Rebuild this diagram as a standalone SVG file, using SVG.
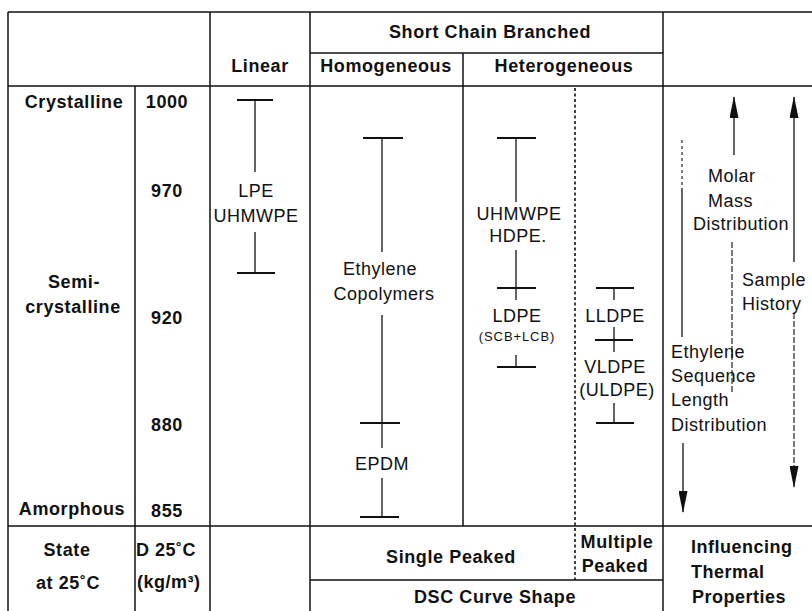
<svg xmlns="http://www.w3.org/2000/svg" width="812" height="611" viewBox="0 0 812 611">
<style>
.h{font-family:"Liberation Sans",Arial,sans-serif;font-size:18px;font-weight:bold;letter-spacing:0.6px;fill:#111;text-anchor:middle}
.hs{font-family:"Liberation Sans",Arial,sans-serif;font-size:18px;font-weight:bold;letter-spacing:0.5px;fill:#111}
.t{font-family:"Liberation Sans",Arial,sans-serif;font-size:18px;letter-spacing:0.5px;fill:#111;text-anchor:middle}
.ts{font-family:"Liberation Sans",Arial,sans-serif;font-size:18px;letter-spacing:0.5px;fill:#111}
.s{font-family:"Liberation Sans",Arial,sans-serif;font-size:13px;letter-spacing:0.9px;fill:#111;text-anchor:middle}
.grid{stroke:#111;stroke-width:1.5;fill:none}
.dot{stroke:#111;stroke-width:1.6;fill:none;stroke-dasharray:3,2.5}
.bar{stroke:#111;stroke-width:1.3;fill:none}
.cap{stroke:#111;stroke-width:1.8;fill:none}
.ln{stroke:#111;stroke-width:1.3;fill:none}
.dash{stroke:#111;stroke-width:1.1;fill:none;stroke-dasharray:6,2}
.fine{stroke:#111;stroke-width:1.1;fill:none;stroke-dasharray:3,3}
</style>
<defs>
<marker id="ah" viewBox="0 0 22 9" refX="21" refY="4.5" markerWidth="22" markerHeight="9" markerUnits="userSpaceOnUse" orient="auto">
<path d="M0,0 L22,4.5 L0,9 Z" fill="#111" stroke="none"/>
</marker>
</defs>
<rect width="812" height="611" fill="#fff"/>
<g id="table-grid">
<line class="grid" x1="8" y1="12" x2="812" y2="12"/>
<line class="grid" x1="310" y1="53" x2="663" y2="53"/>
<line class="grid" x1="8" y1="86" x2="812" y2="86"/>
<line class="grid" x1="8" y1="526" x2="812" y2="526"/>
<line class="grid" x1="310" y1="580" x2="663" y2="580"/>
<line class="grid" x1="8" y1="12" x2="8" y2="611"/>
<line class="grid" x1="135" y1="86" x2="135" y2="611"/>
<line class="grid" x1="210" y1="12" x2="210" y2="611"/>
<line class="grid" x1="310" y1="12" x2="310" y2="611"/>
<line class="grid" x1="463" y1="53" x2="463" y2="526"/>
<line class="dot" x1="575" y1="88" x2="575" y2="580"/>
<line class="grid" x1="663" y1="12" x2="663" y2="611"/>
</g>
<g id="headers">
<text class="h" x="490" y="38">Short Chain Branched</text>
<text class="h" x="260" y="72">Linear</text>
<text class="h" x="386" y="72">Homogeneous</text>
<text class="h" x="564" y="72">Heterogeneous</text>
</g>
<g id="state-column">
<text class="h" x="74" y="108">Crystalline</text>
<text class="h" x="74" y="288">Semi-</text>
<text class="h" x="73" y="313">crystalline</text>
<text class="h" x="72" y="515">Amorphous</text>
<text class="h" x="67" y="556">State</text>
<text class="h" x="68" y="589">at 25˚C</text>
</g>
<g id="density-column">
<text class="h" x="167" y="108">1000</text>
<text class="h" x="167" y="197">970</text>
<text class="h" x="167" y="324">920</text>
<text class="h" x="167" y="431">880</text>
<text class="h" x="167" y="517">855</text>
<text class="hs" x="136" y="556">D 25˚C</text>
<text class="hs" x="137" y="588">(kg/m³)</text>
</g>
<g id="linear-range">
<line class="cap" x1="237" y1="100" x2="273" y2="100"/>
<line class="bar" x1="255" y1="100" x2="255" y2="172"/>
<text class="t" x="256" y="197">LPE</text>
<text class="t" x="256" y="222">UHMWPE</text>
<line class="bar" x1="255" y1="232" x2="255" y2="273"/>
<line class="cap" x1="237" y1="273" x2="275" y2="273"/>
</g>
<g id="homogeneous-range">
<line class="cap" x1="363" y1="138" x2="403" y2="138"/>
<line class="bar" x1="382" y1="138" x2="382" y2="252"/>
<text class="t" x="380" y="275">Ethylene</text>
<text class="t" x="384" y="300">Copolymers</text>
<line class="bar" x1="382" y1="315" x2="382" y2="448"/>
<line class="cap" x1="360" y1="423" x2="400" y2="423"/>
<text class="t" x="382" y="470">EPDM</text>
<line class="bar" x1="382" y1="478" x2="382" y2="517"/>
<line class="cap" x1="360" y1="517" x2="399" y2="517"/>
</g>
<g id="heterogeneous-range">
<line class="cap" x1="497" y1="138" x2="536" y2="138"/>
<line class="bar" x1="516" y1="138" x2="516" y2="202"/>
<text class="t" x="519" y="220">UHMWPE</text>
<text class="t" x="518" y="242">HDPE.</text>
<line class="bar" x1="516" y1="250" x2="516" y2="300"/>
<line class="cap" x1="497" y1="288" x2="536" y2="288"/>
<text class="t" x="517" y="322">LDPE</text>
<text class="s" x="517" y="341">(SCB+LCB)</text>
<line class="bar" x1="516" y1="355" x2="516" y2="367"/>
<line class="cap" x1="497" y1="367" x2="536" y2="367"/>
</g>
<g id="multiple-range">
<line class="cap" x1="596" y1="288" x2="634" y2="288"/>
<line class="bar" x1="614" y1="288" x2="614" y2="300"/>
<text class="t" x="615" y="322">LLDPE</text>
<line class="bar" x1="614" y1="327" x2="614" y2="352"/>
<line class="cap" x1="595" y1="340" x2="633" y2="340"/>
<text class="t" x="615" y="373">VLDPE</text>
<text class="t" x="617" y="396">(ULDPE)</text>
<line class="bar" x1="614" y1="403" x2="614" y2="423"/>
<line class="cap" x1="596" y1="423" x2="634" y2="423"/>
</g>
<g id="influences">
<text class="ts" x="708" y="182">Molar</text>
<text class="ts" x="708" y="207">Mass</text>
<text class="ts" x="693" y="230">Distribution</text>
<text class="ts" x="742" y="286">Sample</text>
<text class="ts" x="742" y="310">History</text>
<text class="ts" x="671" y="358">Ethylene</text>
<text class="ts" x="671" y="382">Sequence</text>
<text class="ts" x="671" y="406">Length</text>
<text class="ts" x="671" y="431">Distribution</text>
</g>
<g id="connectors">
<line class="ln" x1="734" y1="155" x2="734" y2="97" marker-end="url(#ah)"/>
<line class="dash" x1="732" y1="242" x2="732" y2="393"/>
<line class="ln" x1="794" y1="262" x2="794" y2="97" marker-end="url(#ah)"/>
<line class="dash" x1="794" y1="313" x2="794" y2="487" marker-end="url(#ah)"/>
<line class="fine" x1="682" y1="140" x2="682" y2="188"/>
<line class="ln" x1="682" y1="188" x2="682" y2="337"/>
<line class="ln" x1="683" y1="443" x2="683" y2="512" marker-end="url(#ah)"/>
</g>
<g id="footer">
<text class="h" x="451" y="563">Single Peaked</text>
<text class="h" x="617" y="548">Multiple</text>
<text class="h" x="615" y="572">Peaked</text>
<text class="h" x="495" y="603">DSC Curve Shape</text>
<text class="hs" x="691" y="553">Influencing</text>
<text class="hs" x="691" y="578">Thermal</text>
<text class="hs" x="692" y="603">Properties</text>
</g>
</svg>
